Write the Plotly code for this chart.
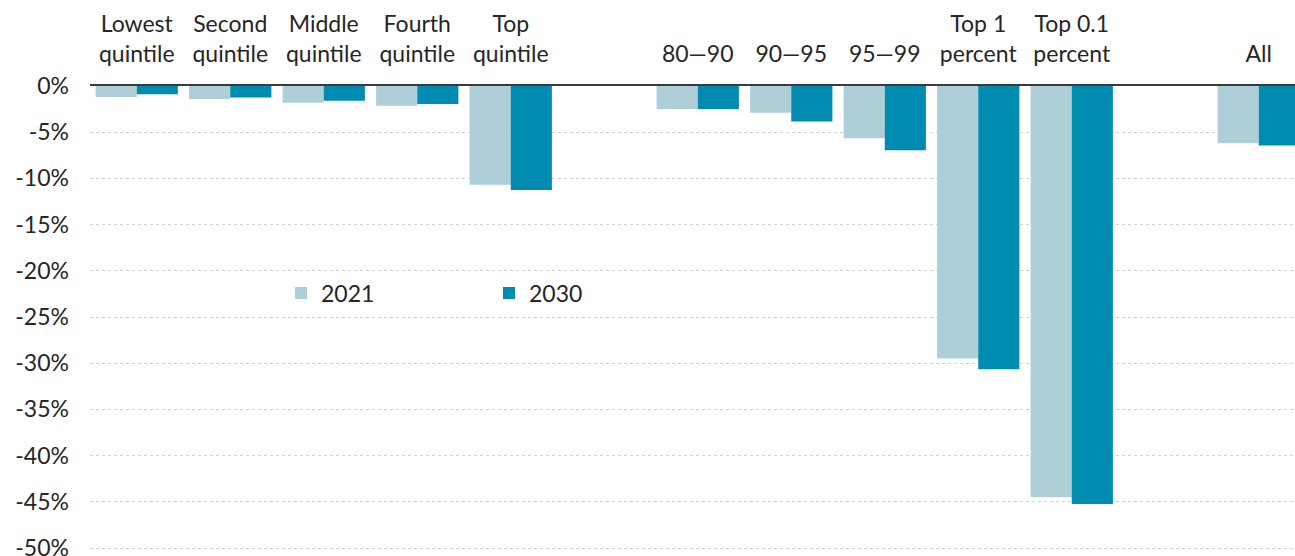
import plotly.graph_objects as go

# Category slots (None = empty spacer slot between groups)
slots = ["Lowest<br>quintile", "Second<br>quintile", "Middle<br>quintile", "Fourth<br>quintile",
         "Top<br>quintile", None, "80\u201490", "90\u201495", "95\u201499",
         "Top 1<br>percent", "Top 0.1<br>percent", None, "All"]

values_2021 = [-1.2, -1.4, -1.8, -2.15, -10.7, -2.5, -2.9, -5.65, -29.5, -44.5, -6.2]
values_2030 = [-0.9, -1.25, -1.6, -1.95, -11.25, -2.5, -3.85, -6.95, -30.65, -45.25, -6.45]

y_tick_vals = [0, -5, -10, -15, -20, -25, -30, -35, -40, -45, -50]
y_tick_text = ["0%", "-5%", "-10%", "-15%", "-20%", "-25%", "-30%", "-35%", "-40%", "-45%", "-50%"]

x_pos = [i for i, s in enumerate(slots) if s is not None]
x_lab = [s for s in slots if s is not None]

FONT = "Lato"
fig = go.Figure()
fig.add_trace(go.Bar(name="2021", x=x_pos, y=values_2021, marker_color="#AECED8",
                     marker_line_width=0))
fig.add_trace(go.Bar(name="2030", x=x_pos, y=values_2030, marker_color="#008BB0",
                     marker_line_width=0))

W, H = 1295, 556
L, R, T, B = 90, 0, 86, 4
cat_px = 93.5
plot_w = W - L - R
plot_h = H - T - B
px_per_unit = 462 / 50.0

fig.update_layout(
    width=W, height=H,
    margin=dict(l=L, r=R, t=T, b=B, pad=0, autoexpand=False),
    paper_bgcolor="white", plot_bgcolor="white",
    barmode="group", bargap=0.12, bargroupgap=0,
    font=dict(family=FONT, size=23, color="#262626"),
    showlegend=True,
    legend=dict(orientation="h", x=(281 - L) / plot_w, xanchor="left",
                y=1 - (293 - T) / plot_h, yanchor="middle",
                bgcolor="rgba(0,0,0,0)", entrywidth=163, entrywidthmode="pixels",
                font=dict(family=FONT, size=23, color="#262626"),
                itemclick=False, tracegroupgap=0),
    xaxis=dict(side="top", range=[-0.5, -0.5 + plot_w / cat_px],
               tickmode="array", tickvals=x_pos, ticktext=x_lab,
               showline=True, linecolor="#3a3a3a", linewidth=2,
               showgrid=False, zeroline=False, ticks="", automargin=False,
               ticklabelstandoff=13,
               tickfont=dict(family=FONT, size=23, color="#262626")),
    yaxis=dict(range=[-plot_h / px_per_unit, 0], tickmode="array",
               tickvals=y_tick_vals, ticktext=y_tick_text,
               showgrid=True, gridcolor="#cfcfcf", griddash="dot", gridwidth=1,
               zeroline=False, showline=False, ticks="", automargin=False,
               ticklabelstandoff=20, ticklabeloverflow="allow",
               tickfont=dict(family=FONT, size=23, color="#262626")),
)

fig.write_html("out.html")
